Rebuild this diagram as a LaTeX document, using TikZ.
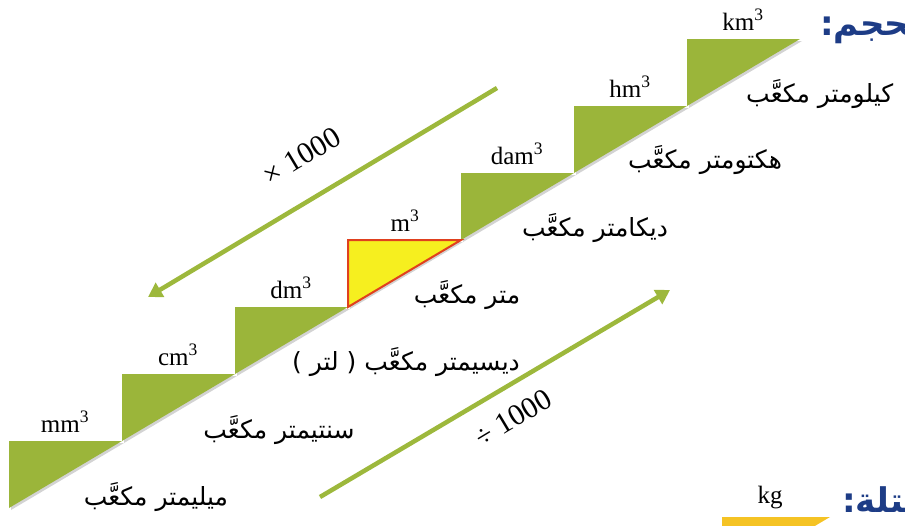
\documentclass[tikz,border=0pt]{standalone}
\usepackage{fontspec}
\setmainfont{Liberation Serif}
\newfontfamily\arabicfont[Script=Arabic]{DejaVu Sans}
\TeXXeTstate=1
\usetikzlibrary{arrows.meta,shadows}
\definecolor{stepgreen}{HTML}{9BB53A}
\definecolor{arrowgreen}{HTML}{9DB83C}
\definecolor{meteryellow}{HTML}{F6EF1F}
\definecolor{meterred}{HTML}{E0401E}
\definecolor{titleblue}{HTML}{1D3C86}
\definecolor{kggold}{HTML}{F5C324}
\tikzset{
  stepshade/.style={drop shadow={shadow xshift=2pt,shadow yshift=-2pt,opacity=0.35}},
  unitlbl/.style={anchor=base,inner sep=0pt,font=\fontsize{25}{25}\selectfont},
  arlbl/.style={inner sep=0pt,font=\arabicfont\fontsize{25}{25}\selectfont},
  factor/.style={inner sep=0pt,font=\fontsize{30}{30}\selectfont,rotate=31},
  bigarrow/.style={arrowgreen,line width=4.5pt,-{Triangle[length=14pt,width=16pt]}},
  titlelbl/.style={anchor=west,inner sep=0pt,text=titleblue,font=\arabicfont\bfseries\fontsize{34}{34}\selectfont}
}
\begin{document}
\begin{tikzpicture}[x=1pt,y=-1pt]
\useasboundingbox (0,0) rectangle (905,525);
\clip (0,0) rectangle (905,525);
% steps
\foreach \i/\u in {0/mm,1/cm,2/dm,4/dam,5/hm,6/km}{
  \pgfmathsetmacro\xl{9+113*\i}
  \pgfmathsetmacro\yt{441-67*\i}
  \fill[stepgreen,stepshade] (\xl,\yt) -- ++(113,0) -- ++(-113,67) -- cycle;
  \node[unitlbl] (u\i) at (\xl+56,\yt-9) {\u\textsuperscript{3}};
}
% the cubic metre step
\filldraw[fill=meteryellow,draw=meterred,line width=2pt,line join=miter,stepshade]
  (348,240) -- (461,240) -- (348,307) -- cycle;
\node[unitlbl] (u3) at (405,231) {m\textsuperscript{3}};
% Arabic names
\node[arlbl,anchor=west] (a6) at (746,94) {\beginR كيلومتر مكعَّب\endR};
\node[arlbl] (a5) at (705,160) {\beginR هكتومتر مكعَّب\endR};
\node[arlbl] (a4) at (595,228) {\beginR ديكامتر مكعَّب\endR};
\node[arlbl] (a3) at (467,295) {\beginR متر مكعَّب\endR};
\node[arlbl] (a2) at (406,362) {\beginR ديسيمتر مكعَّب ( لتر )\endR};
\node[arlbl] (a1) at (279,430) {\beginR سنتيمتر مكعَّب\endR};
\node[arlbl] (a0) at (156,497) {\beginR ميليمتر مكعَّب\endR};
% arrows
\coordinate (mulS) at (497,88);
\coordinate (mulE) at (148,297);
\coordinate (divS) at (320,497);
\coordinate (divE) at (670,290);
\draw[bigarrow] (mulS) -- (mulE);
\draw[bigarrow] (divS) -- (divE);
\node[factor] (mul) at (302,156) {× 1000};
\node[factor] (div) at (513,418) {÷ 1000};
% titles (clipped at the right edge)
\node[titlelbl] (vol) at (820,27) {:\beginR الحجم\endR};
\node[titlelbl] (mass) at (842,500) {:\beginR الكتلة\endR};
% kg step
\fill[kggold] (722,517) -- (830,517) -- (722,581) -- cycle;
\node[unitlbl] (ukg) at (770,503) {kg};
\end{tikzpicture}
\end{document}
